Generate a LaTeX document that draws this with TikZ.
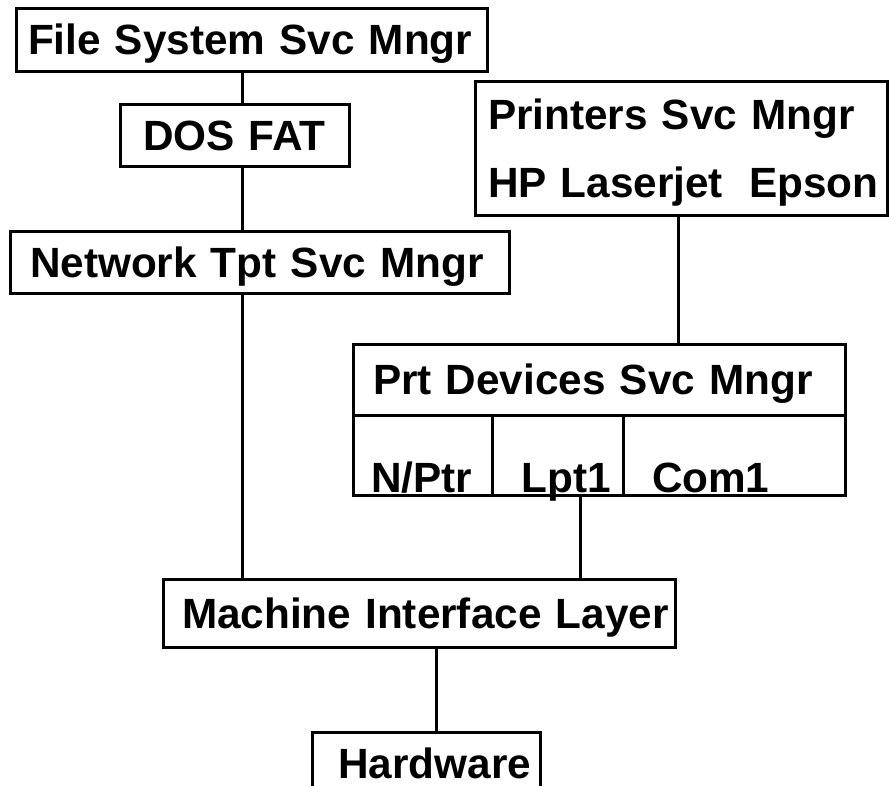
\documentclass[tikz,border=0pt]{standalone}
\usepackage{fontspec}
\setmainfont{Liberation Sans}
\usetikzlibrary{calc}

\newcommand{\layerfont}{\fontsize{42.3pt}{68pt}\selectfont\bfseries\spaceskip=10pt plus 1pt\relax}

\begin{document}
\begin{tikzpicture}[x=1pt, y=-1pt, line width=3pt,
    layer/.style={draw, rectangle, inner ysep=0pt, align=left, text height=30pt, text depth=0pt,
      font=\layerfont},
    cell/.style={layer, text height=74pt, inner ysep=3pt, minimum height=80pt}]
  \useasboundingbox (0,0) rectangle (889,785);

  % --- Left stack: file system over network transport ---
  \node[layer, inner xsep=12pt, text width=447pt, minimum height=63pt] (fsmgr) at (251.5,39.5) {\mbox{File System Svc Mngr}};
  \node[layer, align=center, inner xsep=0pt, text width=229pt, minimum height=62pt] (dosfat) at (234.5,135) {\mbox{DOS FAT}};
  \node[layer, inner xsep=20pt, text width=459pt, minimum height=62pt] (nettpt) at (259.5,262) {\mbox{Network Tpt Svc Mngr}};

  % --- Right stack: printers manager (two lines of text) ---
  \node[layer, inner xsep=13pt, text width=386pt, minimum height=134pt, text depth=68pt] (prtsvc) at (681,148)
    {\mbox{Printers Svc Mngr}\\\mbox{HP Laserjet\hspace{12pt} Epson}};

  % Prt Devices: head row, then three port cells
  \node[layer, inner xsep=20pt, text width=452pt, minimum height=71pt] (prtdev) at (599,379.5) {\mbox{Prt Devices Svc Mngr}};
  \node[cell, inner xsep=18pt, text width=103pt] (nptr) at (422.5,455) {\mbox{N/Ptr}};
  \node[cell, align=right, inner xsep=12pt, text width=107pt] (lpt1) at (557.5,455) {\mbox{Lpt1}};
  \node[cell, inner xsep=29pt, text width=164pt] (com1) at (734,455) {\mbox{Com1}};

  % --- Bottom: machine interface and hardware ---
  \node[layer, inner xsep=19pt, text width=474pt, minimum height=68pt] (mil) at (419,613) {\mbox{Machine Interface Layer}};
  \node[layer, align=right, inner xsep=9pt, text width=210pt, minimum height=63pt] (hardware) at (426,763.5) {\mbox{Hardware}};

  % --- Connectors (vertical drops) ---
  \coordinate (fsline) at (242,0);
  \coordinate (prtline) at (678,0);
  \coordinate (lptline) at (580,0);
  \coordinate (hwline) at (436,0);
  \draw (fsmgr.south -| fsline) -- (dosfat.north -| fsline);
  \draw (dosfat.south -| fsline) -- (nettpt.north -| fsline);
  \draw (nettpt.south -| fsline) -- (mil.north -| fsline);
  \draw (prtsvc.south -| prtline) -- (prtdev.north -| prtline);
  \draw (lpt1.south -| lptline) -- (mil.north -| lptline);
  \draw (mil.south -| hwline) -- (hardware.north -| hwline);

\end{tikzpicture}
\end{document}
